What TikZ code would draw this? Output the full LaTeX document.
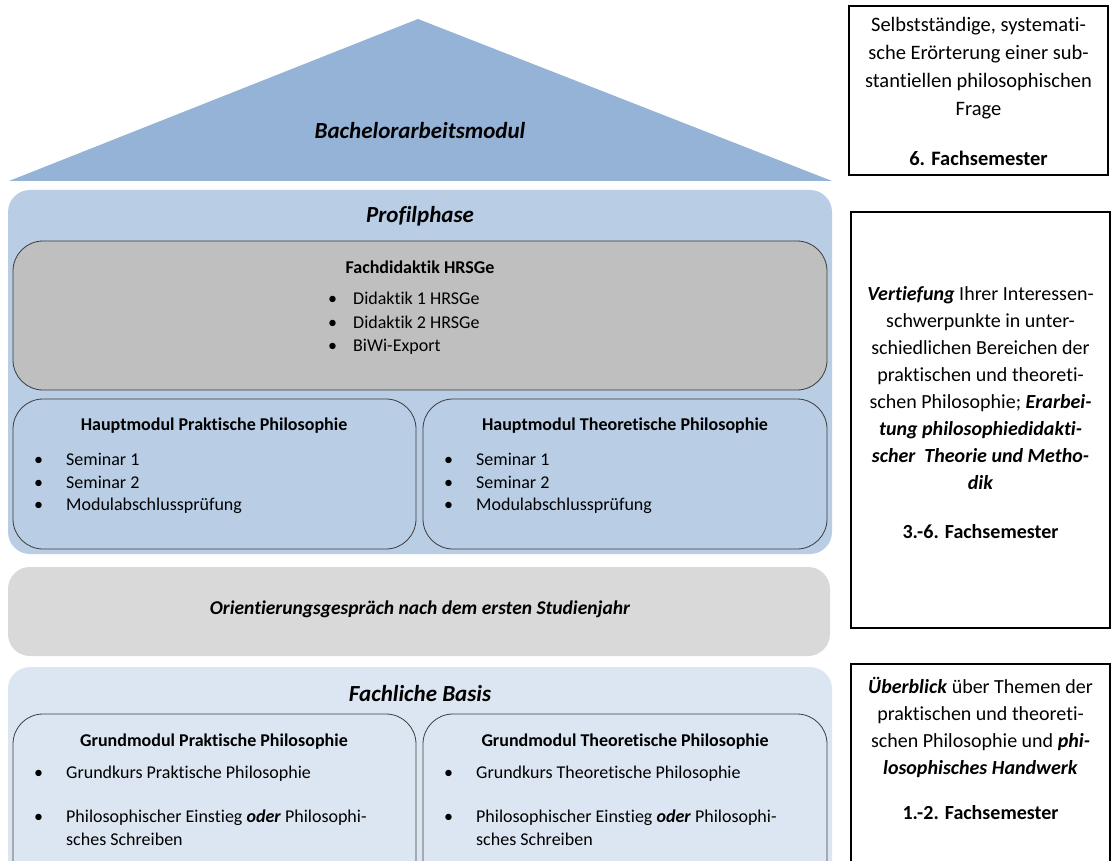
\documentclass[tikz,border=0pt]{standalone}
\usepackage{fontspec}
\setmainfont{Carlito}[Ligatures={NoCommon}]
\definecolor{triC}{RGB}{149,179,215}
\definecolor{profC}{RGB}{185,205,229}
\definecolor{grayC}{RGB}{191,191,191}
\definecolor{orientC}{RGB}{217,217,217}
\definecolor{basisC}{RGB}{220,230,242}
\definecolor{borderC}{RGB}{60,60,60}
\tikzset{
  modbox/.style={draw=borderC, line width=0.8pt, rounded corners=30pt},
  infobox/.style={draw=black, line width=1.4pt},
  bigtitle/.style={anchor=base, font=\fontsize{23}{27}\selectfont\bfseries\itshape},
  modtitle/.style={anchor=base, font=\fontsize{18}{22}\selectfont\bfseries},
  listtext/.style={anchor=north west, align=left, font=\fontsize{18}{22.5}\selectfont},
  infotext/.style={anchor=north, align=center, font=\fontsize{20}{27}\selectfont},
}
\newcommand{\bul}[1]{\makebox[#1][l]{\hspace{-3pt}•}}
\begin{document}
\begin{tikzpicture}[x=1pt,y=-1pt, every node/.style={inner sep=0pt}]
\clip (0,0) rectangle (1111,861);
\fill[white] (0,0) rectangle (1111,861);
% roof
\fill[triC] (9,181) -- (418,19) -- (832,181) -- cycle;
\node[bigtitle] (bam) at (420,139) {Bachelorarbeitsmodul};
% Profilphase
\fill[profC, rounded corners=22pt] (8,190) rectangle (832,554);
\node[bigtitle] (prof) at (420,223) {Profilphase};
\draw[modbox, fill=grayC] (13,241) rectangle (827,390);
\node[modtitle] (fd) at (420,273.5) {Fachdidaktik HRSGe};
\node[listtext, font=\fontsize{18}{23.5}\selectfont] (fdl) at (331,292)
  {\bul{22pt}Didaktik 1 HRSGe\\ \bul{22pt}Didaktik 2 HRSGe\\ \bul{22pt}BiWi-Export};
\draw[modbox] (13,399) rectangle (416,549);
\draw[modbox] (423,399) rectangle (827,549);
\node[modtitle] (hpp) at (214,430.5) {Hauptmodul Praktische Philosophie};
\node[modtitle] (htp) at (625,430.5) {Hauptmodul Theoretische Philosophie};
\node[listtext] (hppl) at (37,453)
  {\bul{29pt}Seminar 1\\ \bul{29pt}Seminar 2\\ \bul{29pt}Modulabschlussprüfung};
\node[listtext] (htpl) at (447,453)
  {\bul{29pt}Seminar 1\\ \bul{29pt}Seminar 2\\ \bul{29pt}Modulabschlussprüfung};
% Orientierung
\fill[orientC, rounded corners=22pt] (8,567) rectangle (830,656);
\node[anchor=base, font=\fontsize{19.5}{23}\selectfont\bfseries\itshape] (orient) at (420,614)
  {Orientierungsgespräch nach dem ersten Studienjahr};
% Fachliche Basis
\fill[basisC, rounded corners=22pt] (8,667) rectangle (832,900);
\node[bigtitle] (fb) at (420,701) {Fachliche Basis};
\draw[modbox] (13,714) rectangle (416,900);
\draw[modbox] (423,714) rectangle (827,900);
\node[modtitle] (gpp) at (214,746) {Grundmodul Praktische Philosophie};
\node[modtitle] (gtp) at (625,746) {Grundmodul Theoretische Philosophie};
\node[listtext, font=\fontsize{18}{23}\selectfont] (gppl) at (37,766)
  {\bul{29pt}Grundkurs Praktische Philosophie\\[21pt]
   \bul{29pt}Philosophischer Einstieg \textbf{\textit{oder}} Philosophi-\\
   \hspace*{29pt}sches Schreiben};
\node[listtext, font=\fontsize{18}{23}\selectfont] (gtpl) at (447,766)
  {\bul{29pt}Grundkurs Theoretische Philosophie\\[21pt]
   \bul{29pt}Philosophischer Einstieg \textbf{\textit{oder}} Philosophi-\\
   \hspace*{29pt}sches Schreiben};
% right info boxes
\draw[infobox] (849,6) rectangle (1108,175);
\node[infotext, font=\fontsize{20.5}{28}\selectfont] (i1) at (978.5,17.5)
  {Selbstständige, systemati-\\sche Erörterung einer sub-\\stantiellen philosophischen\\Frage\\[22pt]\textbf{6. Fachsemester}};
\draw[infobox] (851,212) rectangle (1110,628);
\node[infotext] (i2) at (980.5,286)
  {\textbf{\textit{Vertiefung}} Ihrer Interessen-\\schwerpunkte in unter-\\schiedlichen Bereichen der\\praktischen und theoreti-\\schen Philosophie; \textbf{\textit{Erarbei-}}\\\textbf{\textit{tung philosophiedidakti-}}\\\textbf{\textit{scher\ \ Theorie und Metho-}}\\\textbf{\textit{dik}}\\[22pt]\textbf{3.-6. Fachsemester}};
\draw[infobox] (851,664) rectangle (1110,880);
\node[infotext] (i3) at (980.5,677)
  {\textbf{\textit{Überblick}} über Themen der\\praktischen und theoreti-\\schen Philosophie und \textbf{\textit{phi-}}\\\textbf{\textit{losophisches Handwerk}}\\[18pt]\textbf{1.-2. Fachsemester}};
\end{tikzpicture}
\end{document}
